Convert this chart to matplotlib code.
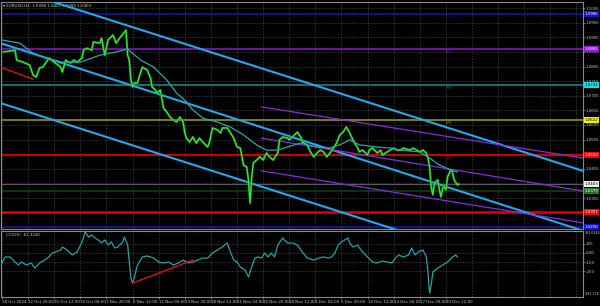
import matplotlib
matplotlib.use('Agg')
import matplotlib.pyplot as plt
from matplotlib.transforms import blended_transform_factory

plt.rcParams['font.family'] = ['Liberation Sans Narrow', 'DejaVu Sans']

# ---------------- data ---------------- #
px_bar = [1, 8, 9, 13, 17, 19, 21, 23, 25, 28,
          29, 32, 36, 37, 39, 42, 44, 46, 49, 50,
          52, 55, 56, 60, 61, 63, 65, 68, 70, 72,
          75, 76, 77, 78, 79, 80, 81, 83, 85, 86,
          89, 91, 92, 94, 95, 97, 99, 101, 103, 105,
          107, 109, 111, 112, 113, 115, 117, 119, 121, 123,
          126, 127, 129, 132, 134, 135, 138, 140, 142, 144,
          146, 147, 148, 150, 151, 152, 153, 154, 156, 158,
          160, 162, 164, 166, 169, 170, 172, 175, 176, 178,
          181, 183, 184, 187, 189, 191, 193, 195, 197, 199,
          201, 203, 205, 207, 209, 211, 213, 215, 218, 219,
          221, 224, 225, 227, 230, 232, 233, 236, 238, 240,
          242, 244, 246, 250, 252, 256, 258, 260, 261, 262,
          263, 264, 265, 267, 268, 269, 270, 271, 272, 273,
          275, 276, 277, 279, 280]
px_close = [1.0855, 1.0861, 1.0827, 1.0820, 1.0810, 1.0776, 1.0769, 1.0800, 1.0803, 1.0827,
            1.0834, 1.0820, 1.0803, 1.0786, 1.0827, 1.0817, 1.0827, 1.0820, 1.0834, 1.0861,
            1.0868, 1.0861, 1.0889, 1.0885, 1.0902, 1.0844, 1.0896, 1.0913, 1.0885, 1.0902,
            1.0923, 1.0930, 1.0844, 1.0827, 1.0759, 1.0735, 1.0749, 1.0749, 1.0786, 1.0803,
            1.0793, 1.0766, 1.0735, 1.0725, 1.0714, 1.0725, 1.0663, 1.0649, 1.0632, 1.0622,
            1.0615, 1.0632, 1.0615, 1.0578, 1.0560, 1.0547, 1.0564, 1.0543, 1.0560, 1.0547,
            1.0530, 1.0543, 1.0595, 1.0588, 1.0578, 1.0595, 1.0595, 1.0578, 1.0560, 1.0530,
            1.0526, 1.0496, 1.0468, 1.0461, 1.0417, 1.0338, 1.0427, 1.0475, 1.0485, 1.0496,
            1.0485, 1.0509, 1.0496, 1.0485, 1.0509, 1.0554, 1.0564, 1.0560, 1.0554, 1.0564,
            1.0581, 1.0564, 1.0547, 1.0537, 1.0513, 1.0496, 1.0509, 1.0519, 1.0513, 1.0496,
            1.0509, 1.0526, 1.0543, 1.0571, 1.0581, 1.0598, 1.0578, 1.0554, 1.0526, 1.0513,
            1.0519, 1.0502, 1.0519, 1.0526, 1.0509, 1.0519, 1.0502, 1.0513, 1.0519, 1.0526,
            1.0519, 1.0519, 1.0526, 1.0519, 1.0526, 1.0513, 1.0519, 1.0509, 1.0492, 1.0461,
            1.0393, 1.0366, 1.0407, 1.0417, 1.0383, 1.0359, 1.0389, 1.0393, 1.0383, 1.0427,
            1.0451, 1.0444, 1.0417, 1.0400, 1.0403]

ma_bar = [0, 11, 19, 28, 37, 48, 60, 70, 77, 85, 93, 101, 107, 112, 117, 123, 132, 140,
          148, 156, 162, 169, 175, 183, 193, 201, 207, 213, 219, 229, 238, 244, 256, 262,
          268, 275, 279]
ma_val = [1.0896, 1.0885, 1.0851, 1.0831, 1.0820, 1.0820, 1.0844, 1.0855, 1.0865, 1.0827,
          1.0803, 1.0759, 1.0714, 1.0690, 1.0656, 1.0629, 1.0615, 1.0598, 1.0571, 1.0537,
          1.0519, 1.0519, 1.0530, 1.0543, 1.0530, 1.0526, 1.0537, 1.0554, 1.0537, 1.0530,
          1.0526, 1.0519, 1.0513, 1.0492, 1.0468, 1.0451, 1.0444]

cci_bar = [0, 2, 5, 8, 10, 12, 15, 18, 20, 23, 28, 31, 36, 37, 40, 43, 46, 49, 51, 53,
           55, 57, 59, 61, 63, 65, 67, 69, 71, 74, 75, 77, 78, 79, 80, 81, 83, 86, 89, 93,
           96, 99, 102, 105, 108, 111, 114, 117, 120, 123, 126, 129, 132, 135, 138, 140, 142,
           144, 146, 149, 151, 153, 155, 157, 159, 161, 163, 165, 167, 169, 172, 173, 175,
           178, 181, 184, 187, 191, 194, 197, 200, 202, 204, 206, 208, 210, 212, 213, 215,
           218, 219, 221, 224, 227, 230, 233, 236, 239, 241, 243, 246, 249, 251, 253, 255,
           258, 260, 261, 262, 263, 264, 267, 270, 273, 276, 278, 279]
cci_val = [-111, -44, -44, -100, -133, -100, -133, -111, -167, -111, -56, 0, 33, 67, 33, -22,
           11, 122, 233, 178, 200, 167, 144, 111, 144, 89, 122, 56, 67, 122, 178, 89, -100,
           -278, -333, -278, -133, -44, -33, -56, -100, -111, -100, -133, -111, -78, -111,
           -100, -78, -56, -56, 0, 33, 67, 111, 11, -78, -100, -155, -189, -266, -155, -56,
           -44, -56, 0, -44, 0, -44, 89, 167, 144, 111, 111, 89, 11, -56, -78, -56, -44, -56,
           -44, 0, 89, 122, 144, 167, 111, 67, 89, 56, 11, -44, -100, -111, -89, -100, -111,
           -56, -22, -44, -22, 56, -22, 11, 33, -44, -211, -444, -355, -211, -167, -133,
           -100, -44, -22, -44]

# trend channels (end points in bar / price)
chan_bar = [-2, 356]
chan_upper = [1.1086, 1.0448]
chan_mid = [1.0887, 1.0243]
chan_lower = [1.0682, 1.0042]
pch_bar = [159, 356]
pch_upper = [1.0667, 1.0492]
pch_mid = [1.0560, 1.0379]
pch_lower = [1.0448, 1.0270]
red_bar = [0, 19]
red_val = [1.0801, 1.0762]
cci_red_bar = [80, 117]
cci_red_val = [-333, -78]

# horizontal levels: price, name, line colour, box colour, text colour
levels = [
    (1.0985, '+1/8', '#14148c', '#1010d0', 'white'),
    (1.0865, '8/8', '#7a12b4', '#9a14e6', 'white'),
    (1.0742, '7/8', '#127a7a', '#10e0e8', 'black'),
    (1.0622, '6/8', '#8a8a10', '#f4f400', 'black'),
    (1.0502, '5/8', '#e00000', '#ff0000', 'white'),
    (1.0379, '', '#0c3a0c', '#1a7a1a', 'white'),
    (1.0256, '', '#141490', '#1010d0', 'white'),
]
support_val = 1.0307
last_price = 1.0403

price_ticks = [1.1005, 1.0955, 1.0905, 1.0855, 1.0805, 1.0755, 1.0705, 1.0655,
               1.0605, 1.0555, 1.0505, 1.0455, 1.0405, 1.0355, 1.0305, 1.0255]
cci_ticks = [100, 0, -100, -200]
cci_tick_labels = ['100', '0.00', '-100', '-200']
time_ticks = list(range(0, 273, 16))
time_labels = ['18 Oct 2024', '22 Oct 20:00', '25 Oct 12:00', '30 Oct 04:00',
               '1 Nov 20:00', '6 Nov 12:00', '11 Nov 04:00', '13 Nov 20:00',
               '18 Nov 12:00', '21 Nov 04:00', '25 Nov 20:00', '28 Nov 12:00',
               '3 Dec 04:00', '5 Dec 20:00', '10 Dec 12:00', '13 Dec 04:00',
               '17 Dec 20:00', '20 Dec 12:00']

# ---------------- layout ---------------- #
W, H = 600, 306
FS = 2.9
GRID = dict(color='#4a4a4a', lw=0.5, ls=(0, (2, 2)), zorder=0)


def px_rect(x0, y0, x1, y1):
    return [x0 / W, 1 - y1 / H, (x1 - x0) / W, (y1 - y0) / H]


def style_axes(axes):
    axes.set_facecolor('black')
    for sp in axes.spines.values():
        sp.set_color('#8a8a8a')
        sp.set_linewidth(0.8)
    axes.yaxis.tick_right()
    axes.tick_params(axis='both', colors='#8a8a8a', labelcolor='#c8c8c8',
                     labelsize=FS, length=1.2, width=0.5, pad=0.8)


fig = plt.figure(figsize=(6, 3.06), dpi=100, facecolor='black')
ax = fig.add_axes(px_rect(1, 2, 583, 229))
ax2 = fig.add_axes(px_rect(1, 231, 583, 297))
style_axes(ax)
style_axes(ax2)

# ---------------- price panel ---------------- #
ax.set_xlim(-0.6, 356)
ax.set_ylim(1.0249, 1.1026)
for b in range(0, 356, 16):
    ax.axvline(b, **GRID)
    ax2.axvline(b, **GRID)
for p in price_ticks:
    ax.axhline(p, **GRID)

for p, name, lc, bc, tc in levels:
    ax.axhline(p, color=lc, lw=1.3, zorder=2)
    if name:
        ax.text(272, p - 0.0004, name, fontsize=3.0, color=lc, va='top', zorder=3)
ax.axhline(support_val, color='#e00000', lw=1.8, zorder=2)
ax.axhline(last_price, color='#5a5a5a', lw=0.8, zorder=2)

ax.plot(chan_bar, chan_upper, color='#22aaee', lw=1.5, zorder=4)
ax.plot(chan_bar, chan_mid, color='#22aaee', lw=1.5, zorder=4)
ax.plot(chan_bar, chan_lower, color='#22aaee', lw=1.5, zorder=4)
ax.plot(pch_bar, pch_upper, color='#8a2be2', lw=0.9, zorder=4)
ax.plot(pch_bar, pch_mid, color='#8a2be2', lw=0.9, zorder=4)
ax.plot(pch_bar, pch_lower, color='#8a2be2', lw=0.9, zorder=4)
ax.plot(red_bar, red_val, color='#e01010', lw=1.0, zorder=4)

ax.plot(px_bar, px_close, color='#168c16', lw=1.6, zorder=5)
ax.plot(px_bar, px_close, color='#44f044', lw=0.7, zorder=5)
ax.plot(ma_bar, ma_val, color='#2aa8a8', lw=0.9, zorder=6)

ax.set_xticks([])
ax.set_yticks(price_ticks)
ax.set_yticklabels(['%.4f' % p for p in price_ticks])

trans = blended_transform_factory(ax.transAxes, ax.transData)
box_levels = [(p, bc, tc) for p, _, _, bc, tc in levels]
box_levels += [(support_val, '#ff0000', 'white'), (last_price, '#f0f0f0', 'black')]
for p, bc, tc in box_levels:
    ax.text(1.003, p, '%.4f' % p, transform=trans, fontsize=FS, color=tc,
            va='center', ha='left', clip_on=False, zorder=10,
            bbox=dict(boxstyle='square,pad=0.15', fc=bc, ec='none'))

ax.text(0.004, 0.992, '\u25be EURUSD,H4  1.0398 1.0405 1.0395 1.0403',
        transform=ax.transAxes, fontsize=FS, color='#d0d0d0', va='top',
        family=['Liberation Sans Narrow', 'DejaVu Sans'])

# ---------------- CCI panel ---------------- #
ax2.set_xlim(-0.6, 356)
ax2.set_ylim(-488, 244)
for v in cci_ticks:
    ax2.axhline(v, **GRID)
ax2.plot(cci_bar, cci_val, color='#22a4a4', lw=0.9, zorder=4)
ax2.plot(cci_red_bar, cci_red_val, color='#e01010', lw=1.0, zorder=5)
ax2.set_yticks(cci_ticks)
ax2.set_yticklabels(cci_tick_labels)
ax2.set_xticks(time_ticks)
ax2.set_xticklabels(time_labels, ha='left')
ax2.text(1.003, 1.0, '381.0243', transform=ax2.transAxes, fontsize=2.3,
         color='#c8c8c8', va='top', ha='left')
ax2.text(1.003, 0.02, '-383.276', transform=ax2.transAxes, fontsize=2.3,
         color='#c8c8c8', va='bottom', ha='left')
ax2.text(0.008, 0.97, 'CCI(20) -61.3240', transform=ax2.transAxes,
         fontsize=FS, color='#d0d0d0', va='top')

fig.savefig('out.png', dpi=100, facecolor='black')
